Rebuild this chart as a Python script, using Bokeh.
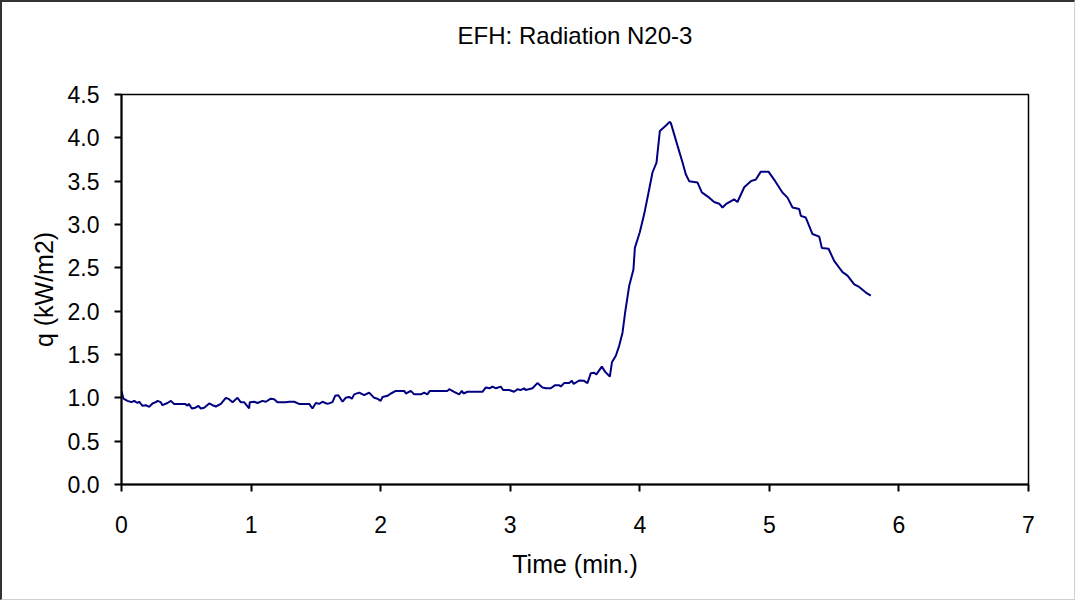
from bokeh.plotting import figure
from bokeh.models import Range1d, FixedTicker, NumeralTickFormatter, LinearAxis
from bokeh.embed import file_html
from bokeh.resources import INLINE

time_min = [0.000, 0.015, 0.046, 0.077, 0.098, 0.123, 0.136, 0.162, 0.188, 0.214,
            0.239, 0.265, 0.278, 0.303, 0.316, 0.355, 0.381, 0.406, 0.490, 0.509,
            0.520, 0.543, 0.570, 0.594, 0.612, 0.638, 0.677, 0.703, 0.728, 0.767,
            0.805, 0.830, 0.857, 0.895, 0.920, 0.946, 0.985, 0.990, 1.024, 1.050,
            1.088, 1.114, 1.152, 1.178, 1.204, 1.268, 1.294, 1.333, 1.370, 1.449,
            1.474, 1.500, 1.526, 1.551, 1.590, 1.628, 1.649, 1.674, 1.706, 1.730,
            1.757, 1.778, 1.796, 1.834, 1.873, 1.911, 1.950, 1.975, 2.000, 2.015,
            2.053, 2.079, 2.117, 2.182, 2.195, 2.233, 2.259, 2.310, 2.336, 2.360,
            2.380, 2.516, 2.529, 2.567, 2.606, 2.627, 2.640, 2.670, 2.786, 2.812,
            2.840, 2.863, 2.890, 2.927, 2.945, 2.992, 3.030, 3.056, 3.080, 3.107,
            3.120, 3.172, 3.210, 3.249, 3.275, 3.313, 3.347, 3.378, 3.390, 3.416,
            3.455, 3.476, 3.490, 3.532, 3.570, 3.596, 3.622, 3.648, 3.665, 3.707,
            3.733, 3.769, 3.785, 3.815, 3.841, 3.867, 3.887, 3.918, 3.951, 3.962,
            4.000, 4.034, 4.073, 4.098, 4.129, 4.155, 4.200, 4.232, 4.240, 4.291,
            4.330, 4.355, 4.381, 4.445, 4.479, 4.536, 4.574, 4.613, 4.638, 4.664,
            4.728, 4.754, 4.806, 4.857, 4.896, 4.934, 4.993, 5.045, 5.101, 5.140,
            5.179, 5.230, 5.243, 5.281, 5.333, 5.385, 5.405, 5.457, 5.500, 5.565,
            5.603, 5.655, 5.693, 5.745, 5.783]

q_kw_m2 = [1.08, 0.99, 0.965, 0.95, 0.965, 0.94, 0.955, 0.908, 0.915, 0.895,
           0.935, 0.95, 0.965, 0.95, 0.915, 0.94, 0.965, 0.93, 0.93, 0.91,
           0.93, 0.877, 0.886, 0.908, 0.877, 0.886, 0.935, 0.915, 0.90, 0.93,
           1.0, 0.985, 0.95, 1.0, 0.95, 0.95, 0.877, 0.95, 0.955, 0.94,
           0.965, 0.955, 0.99, 0.985, 0.95, 0.95, 0.955, 0.955, 0.93, 0.93,
           0.877, 0.94, 0.93, 0.955, 0.93, 0.95, 1.023, 1.03, 0.955, 1.0,
           1.01, 0.99, 1.04, 1.06, 1.03, 1.06, 1.0, 0.99, 0.965, 1.01,
           1.023, 1.05, 1.08, 1.08, 1.05, 1.08, 1.04, 1.04, 1.06, 1.04,
           1.08, 1.08, 1.10, 1.07, 1.04, 1.08, 1.05, 1.07, 1.07, 1.12,
           1.11, 1.13, 1.11, 1.13, 1.09, 1.09, 1.07, 1.10, 1.09, 1.11,
           1.09, 1.11, 1.17, 1.12, 1.11, 1.11, 1.146, 1.146, 1.13, 1.17,
           1.17, 1.196, 1.16, 1.20, 1.196, 1.17, 1.285, 1.29, 1.27, 1.36,
           1.30, 1.246, 1.41, 1.485, 1.60, 1.754, 1.985, 2.29, 2.48, 2.73,
           2.91, 3.12, 3.41, 3.60, 3.715, 4.08, 4.14, 4.185, 4.17, 3.91,
           3.715, 3.58, 3.50, 3.485, 3.37, 3.31, 3.26, 3.24, 3.196, 3.234,
           3.29, 3.26, 3.43, 3.50, 3.52, 3.61, 3.61, 3.50, 3.37, 3.31,
           3.196, 3.18, 3.10, 3.08, 2.89, 2.86, 2.73, 2.72, 2.58, 2.45,
           2.41, 2.31, 2.28, 2.215, 2.18]

x_ticks = [0, 1, 2, 3, 4, 5, 6, 7]
y_ticks = [0.0, 0.5, 1.0, 1.5, 2.0, 2.5, 3.0, 3.5, 4.0, 4.5]
title_text = "EFH: Radiation N20-3"

FONT = "Liberation Sans"

p = figure(output_backend="svg", toolbar_location=None,
           frame_width=907, frame_height=390,
           min_border_left=119, min_border_right=46,
           min_border_top=92, min_border_bottom=115,
           x_range=Range1d(0, 7), y_range=Range1d(0, 4.5))

p.styles = {"border-left": "2px solid #333333", "border-top": "2px solid #333333",
            "border-right": "1px solid #d0d0d0", "border-bottom": "1px solid #d0d0d0"}

x_axis = p.below[0]
y_axis = p.left[0]

p.line(time_min, q_kw_m2, line_color="#000080", line_width=2)

p.xgrid.visible = False
p.ygrid.visible = False
p.outline_line_color = "black"
p.outline_line_width = 1.5
p.background_fill_color = "white"
p.border_fill_color = "white"

for ax in (x_axis, y_axis):
    ax.axis_line_color = "black"
    ax.axis_line_width = 2
    ax.major_tick_line_color = "black"
    ax.major_tick_line_width = 2
    ax.major_tick_in = 0
    ax.major_tick_out = 7
    ax.minor_tick_line_color = None
    ax.major_label_text_font = FONT
    ax.major_label_text_font_size = "23px"
    ax.major_label_text_color = "black"
    ax.axis_label_text_font = FONT
    ax.axis_label_text_font_size = "25px"
    ax.axis_label_text_font_style = "normal"
    ax.axis_label_text_color = "black"

x_axis.ticker = FixedTicker(ticks=x_ticks)
y_axis.ticker = FixedTicker(ticks=y_ticks)
y_axis.formatter = NumeralTickFormatter(format="0.0")
x_axis.axis_label = "Time (min.)"
y_axis.axis_label = "q (kW/m2)"
x_axis.major_label_standoff = 24
y_axis.major_label_standoff = 15
x_axis.axis_label_standoff = 14
y_axis.axis_label_standoff = 7

# chart title, carried by a tick-less axis above the frame
title_axis = LinearAxis(ticker=FixedTicker(ticks=[]), axis_label=title_text,
                        axis_line_color=None, major_tick_line_color=None,
                        minor_tick_line_color=None, major_label_text_alpha=0,
                        major_tick_in=0, major_tick_out=0,
                        axis_label_text_font=FONT, axis_label_text_font_size="24px",
                        axis_label_text_font_style="normal", axis_label_text_color="black",
                        axis_label_standoff=46)
p.add_layout(title_axis, "above")

open("out.html", "w").write(file_html(p, INLINE))
